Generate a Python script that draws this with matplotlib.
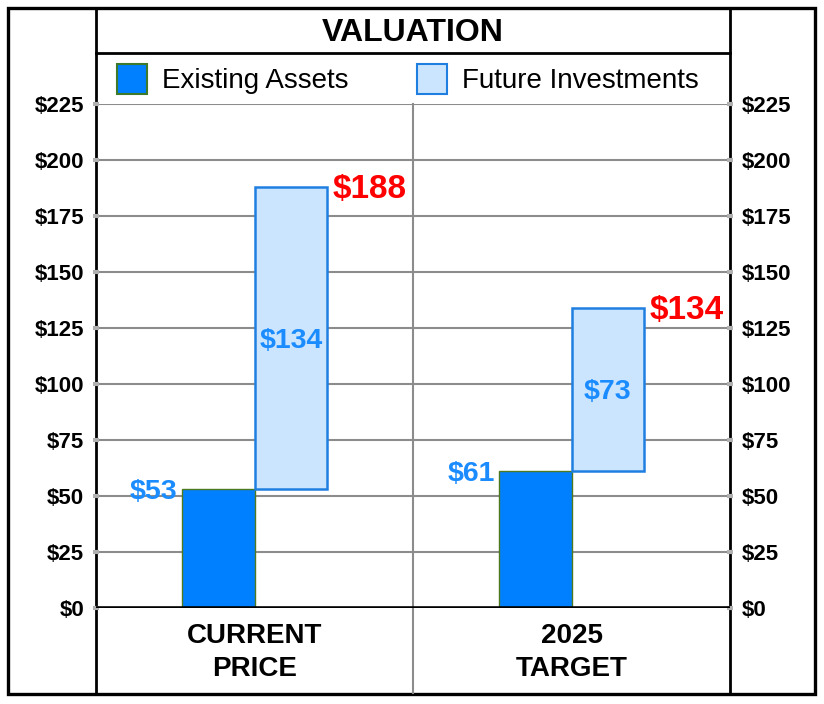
import matplotlib
matplotlib.use("Agg")
import matplotlib.pyplot as plt
from matplotlib.patches import Rectangle

plt.rcParams['font.family'] = ['Liberation Sans', 'DejaVu Sans']

# ---- data ----
categories = ["CURRENT\nPRICE", "2025\nTARGET"]
existing_assets = [53, 61]
future_investments = [134, 73]
totals = [188, 134]
y_ticks = [0, 25, 50, 75, 100, 125, 150, 175, 200, 225]
title = "VALUATION"
legend_labels = ["Existing Assets", "Future Investments"]

# ---- styles ----
C_EXIST = '#0080ff'
C_FUT = '#cce5ff'
C_BLUE_TXT = '#1a8cff'
C_RED = '#ff0000'
C_GRID = '#8c8c8c'

W, H = 824, 704
fig = plt.figure(figsize=(W / 100, H / 100), dpi=100, facecolor='white')

# background / frame overlay in pixel coordinates
bg = fig.add_axes([0, 0, 1, 1], zorder=0)
bg.set_xlim(0, W)
bg.set_ylim(H, 0)
bg.axis('off')
bg.add_patch(Rectangle((8, 8), 807, 686, fill=False, edgecolor='black', lw=2.4))
bg.plot([96, 96], [8, 694], color='black', lw=2.0)
bg.plot([730, 730], [8, 694], color='black', lw=2.0)
bg.plot([96, 730], [53, 53], color='black', lw=2.0)
bg.text(413, 33, title, ha='center', va='center', fontsize=23, fontweight='bold')

# legend (manual)
leg_items = [(117, C_EXIST, '#3d7a2a'), (417, C_FUT, '#1f7fe0')]
for (x0, fc, ec), lab in zip(leg_items, legend_labels):
    bg.add_patch(Rectangle((x0, 64), 30, 30, facecolor=fc, edgecolor=ec, lw=1.5))
    bg.text(x0 + 45, 81, lab, ha='left', va='center', fontsize=20)

# main plot axes
left, right = 96 / W, 730 / W
bottom, top = (H - 608) / H, (H - 104) / H
ax = fig.add_axes([left, bottom, right - left, top - bottom], zorder=1)
ax.patch.set_visible(False)
ax.set_xlim(0, 2)
ax.set_ylim(0, 225)
for s in ax.spines.values():
    s.set_visible(False)

ax.set_yticks(y_ticks)
ax.set_yticklabels([f"${v}" for v in y_ticks])
ax.tick_params(axis='y', which='both', left=True, right=True, labelleft=True, labelright=True,
               length=5, width=3, color='#b0b0b0', direction='inout', pad=6,
               labelsize=16)
for lab in ax.get_yticklabels():
    lab.set_fontweight('bold')

ax.set_xticks([0.5, 1.5])
ax.set_xticklabels(categories, fontsize=20, fontweight='bold', linespacing=1.35)
ax.tick_params(axis='x', length=0, pad=11)

# grid lines
for v in y_ticks[1:]:
    ax.axhline(v, color=C_GRID, lw=1.5, zorder=1)
ax.axhline(0, color='black', lw=2.6, zorder=4)
ax.axvline(1, ymin=-85 / 504, ymax=1, color=C_GRID, lw=1.5, zorder=1, clip_on=False)

# bars
bw = 0.229
centers = [0.5, 1.5]
for i, c in enumerate(centers):
    x_e = c - bw / 2
    x_f = c + bw / 2
    ax.bar(x_e, existing_assets[i], width=bw, color=C_EXIST, edgecolor='#4d7a1f',
           lw=1.0, zorder=3)
    ax.bar(x_f, totals[i] - existing_assets[i], bottom=existing_assets[i], width=bw,
           color=C_FUT, edgecolor='#1f7fe0', lw=1.8, zorder=3)
    # labels
    ax.annotate(f"${existing_assets[i]}", xy=(x_e - bw / 2, existing_assets[i]),
                xytext=(-3, -2), textcoords='offset points', ha='right', va='center',
                color=C_BLUE_TXT, fontsize=20.5, fontweight='bold', zorder=5)
    ax.annotate(f"${future_investments[i]}",
                xy=(x_f, existing_assets[i] + (totals[i] - existing_assets[i]) / 2),
                xytext=(0, -2), textcoords='offset points', ha='center', va='center',
                color=C_BLUE_TXT, fontsize=20.5, fontweight='bold', zorder=5)
    ax.annotate(f"${totals[i]}", xy=(x_f + bw / 2, totals[i]),
                xytext=(4, -2), textcoords='offset points', ha='left', va='center',
                color=C_RED, fontsize=24, fontweight='bold', zorder=5)

fig.savefig("out.png", dpi=100, facecolor='white')
